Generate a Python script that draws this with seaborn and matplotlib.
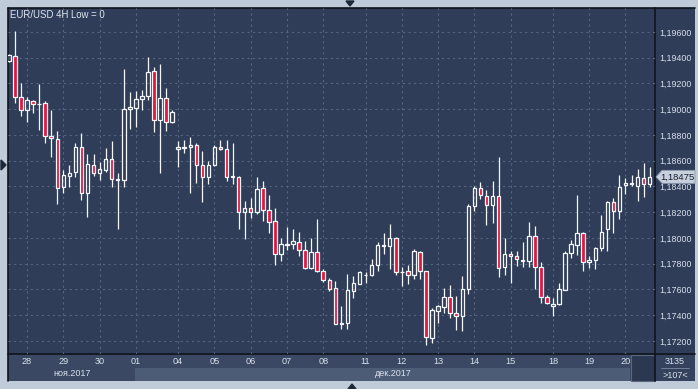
import numpy as np
import matplotlib
matplotlib.use("Agg")
import matplotlib.pyplot as plt
import seaborn as sns
from matplotlib.patches import Rectangle, Polygon
from matplotlib.colors import LinearSegmentedColormap

# EUR/USD 4H candles (index = candle number)
title = "EUR/USD 4H Low = 0"
opens = [1.19377, 1.19416, 1.19098, 1.18992, 1.19062, 1.19038, 1.19046, 1.18790, 1.18767, 1.18398,
         1.18485, 1.18509, 1.18707, 1.18353, 1.18565, 1.18502, 1.18528, 1.18611, 1.18448, 1.18448,
         1.19000, 1.19007, 1.19077, 1.19101, 1.19295, 1.18914, 1.19085, 1.18899, 1.18689, 1.18701,
         1.18704, 1.18720, 1.18565, 1.18476, 1.18565, 1.18707, 1.18689, 1.18472, 1.18472, 1.18200,
         1.18231, 1.18200, 1.18386, 1.18215, 1.18130, 1.17873, 1.17948, 1.17951, 1.17967, 1.17905,
         1.17769, 1.17889, 1.17741, 1.17671, 1.17609, 1.17334, 1.17342, 1.17591, 1.17645, 1.17710,
         1.17713, 1.17788, 1.17938, 1.17940, 1.17998, 1.17734, 1.17741, 1.17710, 1.17889, 1.17741,
         1.17226, 1.17435, 1.17462, 1.17539, 1.17415, 1.17392, 1.17602, 1.18246, 1.18386, 1.18324,
         1.18254, 1.18324, 1.17772, 1.17873, 1.17858, 1.17824, 1.17825, 1.18019, 1.17773, 1.17538,
         1.17472, 1.17490, 1.17598, 1.17881, 1.17942, 1.18037, 1.17810, 1.17827, 1.17926, 1.18068,
         1.18277, 1.18210, 1.18409, 1.18425, 1.18404, 1.18468, 1.18416]
highs = [1.19429, 1.19608, 1.19202, 1.19098, 1.19072, 1.19194, 1.19066, 1.18994, 1.18833, 1.18528,
         1.18567, 1.18736, 1.18813, 1.18652, 1.18652, 1.18590, 1.18697, 1.18756, 1.18502, 1.19313,
         1.19132, 1.19142, 1.19147, 1.19403, 1.19330, 1.19351, 1.19163, 1.18994, 1.18753, 1.18761,
         1.18787, 1.18736, 1.18676, 1.18598, 1.18720, 1.18761, 1.18761, 1.18736, 1.18482, 1.18287,
         1.18308, 1.18474, 1.18443, 1.18334, 1.18231, 1.17998, 1.18083, 1.18070, 1.18044, 1.17974,
         1.17998, 1.18145, 1.17757, 1.17692, 1.17666, 1.17472, 1.17718, 1.17705, 1.17746, 1.17738,
         1.17837, 1.17969, 1.18037, 1.18109, 1.18008, 1.17775, 1.17790, 1.17917, 1.17901, 1.17744,
         1.17454, 1.17482, 1.17612, 1.17633, 1.17550, 1.17705, 1.18262, 1.18404, 1.18435, 1.18370,
         1.18443, 1.18629, 1.18000, 1.17899, 1.17899, 1.17969, 1.18124, 1.18096, 1.17811, 1.17557,
         1.17536, 1.17651, 1.17901, 1.17982, 1.18334, 1.18047, 1.17860, 1.17932, 1.18179, 1.18287,
         1.18311, 1.18487, 1.18466, 1.18487, 1.18538, 1.18583, 1.18555]
lows = [1.19367, 1.19049, 1.18950, 1.18903, 1.18969, 1.18839, 1.18740, 1.18627, 1.18262, 1.18347,
        1.18398, 1.18476, 1.18295, 1.18165, 1.18484, 1.18450, 1.18515, 1.18398, 1.18068, 1.18398,
        1.18847, 1.18864, 1.18994, 1.19072, 1.18826, 1.18502, 1.18833, 1.18891, 1.18554, 1.18662,
        1.18352, 1.18430, 1.18282, 1.18417, 1.18562, 1.18686, 1.18445, 1.18417, 1.18068, 1.17995,
        1.18158, 1.18186, 1.18130, 1.18041, 1.17788, 1.17824, 1.17907, 1.17917, 1.17863, 1.17757,
        1.17757, 1.17734, 1.17661, 1.17591, 1.17330, 1.17295, 1.17295, 1.17536, 1.17643, 1.17653,
        1.17705, 1.17746, 1.17876, 1.17762, 1.17713, 1.17630, 1.17643, 1.17684, 1.17684, 1.17167,
        1.17185, 1.17342, 1.17415, 1.17381, 1.17285, 1.17278, 1.17563, 1.18210, 1.18301, 1.18103,
        1.18119, 1.17699, 1.17715, 1.17654, 1.17786, 1.17777, 1.17777, 1.17602, 1.17498, 1.17485,
        1.17397, 1.17477, 1.17594, 1.17842, 1.17868, 1.17746, 1.17769, 1.17762, 1.17899, 1.17901,
        1.18041, 1.18145, 1.18342, 1.18406, 1.18285, 1.18316, 1.18394]
closes = [1.19421, 1.19098, 1.18992, 1.19072, 1.19038, 1.19043, 1.18792, 1.18777, 1.18392, 1.18489,
          1.18503, 1.18707, 1.18353, 1.18572, 1.18502, 1.18534, 1.18611, 1.18456, 1.18456, 1.19000,
          1.19015, 1.19077, 1.19101, 1.19289, 1.18914, 1.19085, 1.18899, 1.18979, 1.18707, 1.18707,
          1.18720, 1.18565, 1.18476, 1.18565, 1.18707, 1.18689, 1.18476, 1.18479, 1.18200, 1.18231,
          1.18204, 1.18378, 1.18215, 1.18122, 1.17873, 1.17951, 1.17953, 1.17974, 1.17905, 1.17769,
          1.17889, 1.17741, 1.17674, 1.17606, 1.17334, 1.17340, 1.17594, 1.17648, 1.17736, 1.17715,
          1.17788, 1.17943, 1.17943, 1.17998, 1.17734, 1.17738, 1.17710, 1.17897, 1.17741, 1.17229,
          1.17438, 1.17470, 1.17539, 1.17415, 1.17392, 1.17602, 1.18246, 1.18386, 1.18332, 1.18259,
          1.18324, 1.17769, 1.17873, 1.17858, 1.17833, 1.17829, 1.18016, 1.17773, 1.17538, 1.17494,
          1.17491, 1.17602, 1.17881, 1.17951, 1.18037, 1.17811, 1.17827, 1.17920, 1.18050, 1.18277,
          1.18210, 1.18398, 1.18425, 1.18416, 1.18470, 1.18417, 1.18475]

day_labels = ["28", "29", "30", "01", "04", "05", "06", "07", "08",
              "11", "12", "13", "14", "15", "18", "19", "20"]
day_index = [3, 9, 15, 21, 28, 34, 40, 46, 52, 59, 65, 71, 77, 83, 90, 96, 102]
month_labels = ["ноя.2017", "дек.2017"]
price_ticks = [1.172, 1.174, 1.176, 1.178, 1.180, 1.182, 1.184,
               1.186, 1.188, 1.190, 1.192, 1.194, 1.196]
last_price = 1.18475
bars_total = "3135"
bars_shown = ">107<"

# colours
chrome = "#c0cbda"
panel = "#2f3d58"
red = "#e2163d"
white = "#f4f6fa"
grid_col = "#56657f"
txt = "#d8e0ec"

sns.set_theme(style="dark", rc={"axes.facecolor": "none", "figure.facecolor": chrome})
plt.rcParams['font.family'] = ['Liberation Sans', 'DejaVu Sans']

W, H = 698, 389
fig = plt.figure(figsize=(W / 100, H / 100), dpi=100)

# background chrome in pixel coordinates
bg = fig.add_axes([0, 0, 1, 1], zorder=0)
bg.set_xlim(0, W)
bg.set_ylim(H, 0)
bg.axis("off")
bg.add_patch(Rectangle((8, 8), 687, 373, color=panel, lw=0))
cmap = LinearSegmentedColormap.from_list("bgr", ["#415170", "#2b3953"])
grad = np.linspace(0, 1, 256).reshape(-1, 1)
bg.imshow(grad, cmap=cmap, extent=[8, 695, 354, 8], aspect="auto", interpolation="bilinear")
bg.add_patch(Rectangle((8, 354), 647, 27, color="#3a4863", lw=0))
bg.add_patch(Rectangle((135, 368), 495, 13, color="#4c5b76", lw=0))
bg.add_patch(Rectangle((630.5, 355), 24, 25.5, facecolor="#2c3850", edgecolor="#5b687e", lw=0.8))
bg.add_patch(Rectangle((655, 354), 40, 27, color="#34425d", lw=0))
bg.plot([8, 695], [354, 354], color="#0f141c", lw=1.2)
bg.plot([655, 655], [8, 381], color="#0f141c", lw=1.2)
bg.plot([8, 695], [8, 8], color="#0f141c", lw=1.2)
bg.plot([8, 8], [8, 381], color="#0f141c", lw=1.2)
bg.plot([661, 689], [368, 368], color="#7c8aa0", lw=0.6)
bg.text(72, 374, month_labels[0], color=txt, fontsize=6.5, ha="center", va="center")
bg.text(393, 374, month_labels[1], color=txt, fontsize=6.5, ha="center", va="center")
bg.text(675, 361.5, bars_total, color=txt, fontsize=6.5, ha="center", va="center")
bg.text(675, 375, bars_shown, color=txt, fontsize=6.5, ha="center", va="center")
# small arrow markers on the frame
bg.add_patch(Polygon([[346, 1], [354, 1], [350, 6]], color="#1e2838"))
bg.add_patch(Polygon([[348, 389], [356, 389], [352, 384]], color="#1e2838"))
bg.add_patch(Polygon([[1, 160], [1, 170], [6, 165]], color="#1e2838"))

# candle axes
ax = fig.add_axes([8 / W, 35 / H, 647 / W, 346 / H], zorder=1)
ax.set_facecolor("none")
idx = np.arange(len(opens))
o = np.array(opens)
c = np.array(closes)
hi = np.array(highs)
lo = np.array(lows)
top = np.maximum(o, c)
bot = np.minimum(o, c)
down = c < o

ax.vlines(idx, top, hi, color=white, lw=0.9, zorder=3)
ax.vlines(idx, lo, bot, color=white, lw=0.9, zorder=3)
face = [red if d else "none" for d in down]
ax.bar(idx, top - bot, bottom=bot, width=0.58, color=face,
       edgecolor=white, linewidth=0.9, zorder=4)

ax.set_xlim(-0.149, 106.88)
ax.set_ylim(1.17099, 1.197864)
ax.set_xticks(day_index)
ax.set_xticklabels(day_labels)
ax.set_yticks(price_ticks)
ax.set_yticklabels([f"{p:.5f}".replace(".", ",") for p in price_ticks])
ax.yaxis.tick_right()
ax.tick_params(axis="y", length=0, pad=3.2, labelsize=6.4, labelcolor=txt)
ax.tick_params(axis="x", length=0, pad=2.5, labelsize=6.6, labelcolor=txt)
ax.grid(True, color=grid_col, lw=0.8, linestyle=(0, (2, 3)))
for s in ax.spines.values():
    s.set_visible(False)

# overlay: title and last-price tag
ov = fig.add_axes([0, 0, 1, 1], zorder=2)
ov.set_xlim(0, W)
ov.set_ylim(H, 0)
ov.axis("off")
ov.patch.set_alpha(0)
ov.text(10, 14.5, title, color="#dfe6f0", fontsize=6.9, ha="left", va="center")
tag_y = 32 + (1.196 - last_price) * 12875
ov.add_patch(Polygon([[656, tag_y], [662, tag_y - 6.5], [695, tag_y - 6.5],
                      [695, tag_y + 6.5], [662, tag_y + 6.5]],
                     facecolor="#c7d0dc", edgecolor="#8d9bb0", lw=0.6))
ov.text(677.5, tag_y, f"{last_price:.5f}".replace(".", ","), color="#18202e",
        fontsize=6.8, ha="center", va="center")

fig.savefig("out.png", dpi=100, facecolor=chrome)
